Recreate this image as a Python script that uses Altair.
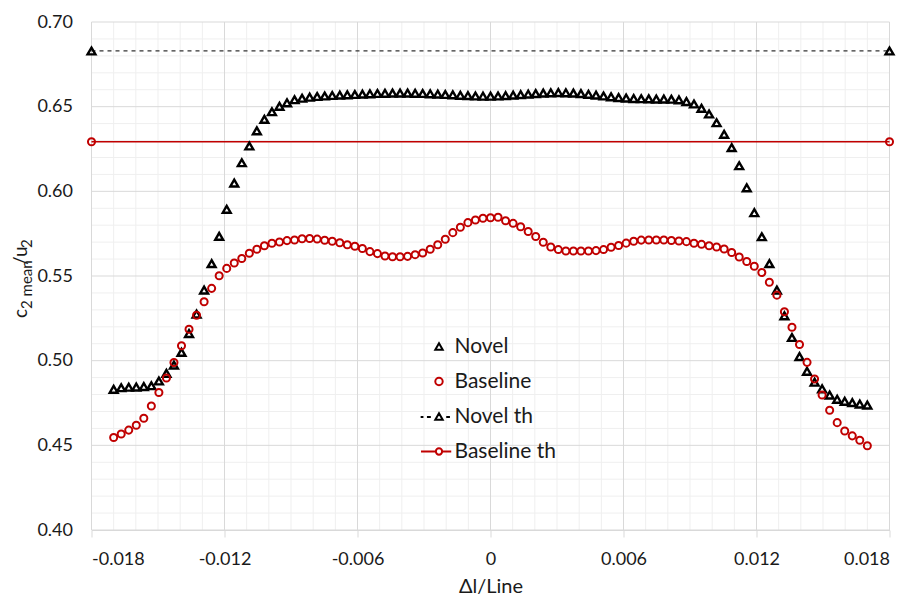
import altair as alt
import pandas as pd

# ---------------- data ----------------
x_pos = [round(-0.017 + 0.00034 * i, 5) for i in range(101)]

novel = [
    0.4831, 0.4840, 0.4843, 0.4844, 0.4847, 0.4852, 0.4880, 0.4925, 0.4974, 0.5049,
    0.5160, 0.5275, 0.5417, 0.5573, 0.5734, 0.5894, 0.6049, 0.6169, 0.6268, 0.6357,
    0.6425, 0.6470, 0.6502, 0.6523, 0.6541, 0.6550, 0.6556, 0.6560, 0.6563, 0.6566,
    0.6568, 0.6570, 0.6572, 0.6574, 0.6576, 0.6578, 0.6579, 0.6580, 0.6580, 0.6580,
    0.6579, 0.6578, 0.6576, 0.6574, 0.6572, 0.6570, 0.6567, 0.6565, 0.6563, 0.6562,
    0.6562, 0.6563, 0.6565, 0.6568, 0.6571, 0.6574, 0.6577, 0.6580, 0.6582, 0.6583,
    0.6582, 0.6580, 0.6577, 0.6573, 0.6568, 0.6563, 0.6558, 0.6554, 0.6551, 0.6548,
    0.6547, 0.6546, 0.6545, 0.6545, 0.6544, 0.6540, 0.6530, 0.6516, 0.6490, 0.6457,
    0.6405, 0.6337, 0.6258, 0.6151, 0.6021, 0.5874, 0.5732, 0.5573, 0.5417, 0.5265,
    0.5137, 0.5024, 0.4937, 0.4873, 0.4834, 0.4797, 0.4772, 0.4760, 0.4752, 0.4744,
    0.4738,
]

baseline = [
    0.4546, 0.4567, 0.4590, 0.4619, 0.4660, 0.4732, 0.4812, 0.4898, 0.4989, 0.5088,
    0.5186, 0.5268, 0.5348, 0.5427, 0.5501, 0.5545, 0.5577, 0.5603, 0.5634, 0.5658,
    0.5679, 0.5693, 0.5701, 0.5709, 0.5713, 0.5720, 0.5721, 0.5718, 0.5711, 0.5705,
    0.5696, 0.5685, 0.5676, 0.5662, 0.5644, 0.5632, 0.5618, 0.5614, 0.5614, 0.5616,
    0.5626, 0.5636, 0.5658, 0.5685, 0.5717, 0.5756, 0.5788, 0.5815, 0.5831, 0.5841,
    0.5844, 0.5847, 0.5826, 0.5811, 0.5791, 0.5763, 0.5733, 0.5699, 0.5671, 0.5656,
    0.5648, 0.5648, 0.5648, 0.5648, 0.5650, 0.5656, 0.5670, 0.5680, 0.5694, 0.5705,
    0.5712, 0.5713, 0.5713, 0.5713, 0.5710, 0.5707, 0.5703, 0.5693, 0.5687, 0.5679,
    0.5671, 0.5659, 0.5639, 0.5612, 0.5586, 0.5558, 0.5521, 0.5463, 0.5387, 0.5289,
    0.5197, 0.5095, 0.4990, 0.4892, 0.4797, 0.4707, 0.4634, 0.4585, 0.4556, 0.4530,
    0.4498,
]

novel_th = 0.6829
baseline_th = 0.6293
th_x = [-0.018, 0.018]

series_names = ["Novel", "Baseline", "Novel th", "Baseline th"]
x_ticks = [-0.018, -0.012, -0.006, 0.0, 0.006, 0.012, 0.018]
y_ticks = [0.40, 0.45, 0.50, 0.55, 0.60, 0.65, 0.70]
x_minor = [round(-0.018 + 0.001 * k, 3) for k in range(37) if k % 6 != 0]
y_minor = [round(0.40 + 0.01 * k, 2) for k in range(31) if k % 5 != 0]

# ---------------- styling ----------------
BLACK = "#000000"
RED = "#C00000"
TEXT = "#1a1a1a"
FONT = "Lato"
MAJOR = "#d9d9d9"
MINOR = "#efefef"

novel_th_shape = "M-4.95,0.15H-4.2M-3.25,0.15H-2.2M1.95,0.15H2.95M0,-0.866L-1,0.866L1,0.866Z"
baseline_th_shape = "M-4.85,0H-0.85M0.85,0H3.3M0.85,0A0.85,0.85,0,1,1,-0.85,0A0.85,0.85,0,1,1,0.85,0"

xscale = alt.Scale(domain=[-0.018, 0.018], nice=False, zero=False)
yscale = alt.Scale(domain=[0.40, 0.70], nice=False, zero=False)

xaxis = alt.Axis(
    values=x_ticks, grid=False, title="Δl/Line",
    labelExpr="datum.value == 0 ? '0' : (datum.value < 0 ? '-' + format(-datum.value, '.3f') : format(datum.value, '.3f'))",
    labelFont=FONT, labelFontSize=18, labelColor=TEXT, labelPadding=13,
    ticks=True, tickSize=7, tickColor=MAJOR, domain=True, domainColor=MAJOR,
    titleFont=FONT, titleFontSize=20, titleFontWeight="normal", titleColor=TEXT, titlePadding=8,
)
yaxis = alt.Axis(
    values=y_ticks, grid=False, title=None, format=".2f",
    labelFont=FONT, labelFontSize=18, labelColor=TEXT, labelPadding=19,
    ticks=False, domain=False,
)

shape_scale = alt.Scale(domain=series_names,
                        range=["triangle-up", "circle", novel_th_shape, baseline_th_shape])
color_scale = alt.Scale(domain=series_names, range=[BLACK, RED, BLACK, RED])

legend = alt.Legend(
    orient="none", legendX=337, legendY=314, title=None,
    labelFont=FONT, labelFontSize=21, labelColor=TEXT, labelOffset=5,
    symbolSize=55, symbolStrokeWidth=2.0, symbolOffset=0, rowPadding=13, padding=0,
)

# ---------------- tables ----------------
df_pts = pd.DataFrame({
    "x": x_pos * 2,
    "y": novel + baseline,
    "series": ["Novel"] * len(novel) + ["Baseline"] * len(baseline),
})
df_novel = df_pts[df_pts.series == "Novel"]
df_base = df_pts[df_pts.series == "Baseline"]
df_nth = pd.DataFrame({"x": th_x, "y": [novel_th] * 2})
df_bth = pd.DataFrame({"x": th_x, "y": [baseline_th] * 2})
df_xminor = pd.DataFrame({"x": x_minor})
df_yminor = pd.DataFrame({"y": y_minor})
df_xmajor = pd.DataFrame({"x": x_ticks})
df_ymajor = pd.DataFrame({"y": y_ticks})

X = lambda f: alt.X(f, scale=xscale, axis=xaxis)
Y = lambda f: alt.Y(f, scale=yscale, axis=yaxis)

grid_xminor = alt.Chart(df_xminor).mark_rule(color=MINOR, strokeWidth=1).encode(x=X("x:Q"))
grid_yminor = alt.Chart(df_yminor).mark_rule(color=MINOR, strokeWidth=1).encode(y=Y("y:Q"))
grid_xmajor = alt.Chart(df_xmajor).mark_rule(color=MAJOR, strokeWidth=1).encode(x=X("x:Q"))
grid_ymajor = alt.Chart(df_ymajor).mark_rule(color=MAJOR, strokeWidth=1).encode(y=Y("y:Q"))

nth_line = alt.Chart(df_nth).mark_line(color="#333333", strokeDash=[4, 4], strokeWidth=1.2).encode(
    x=X("x:Q"), y=Y("y:Q"))
bth_line = alt.Chart(df_bth).mark_line(color=RED, strokeWidth=1.5).encode(x=X("x:Q"), y=Y("y:Q"))
nth_pts = alt.Chart(df_nth).mark_point(shape="triangle-up", filled=False, color=BLACK, size=62,
                                       strokeWidth=2.4, opacity=1).encode(x=X("x:Q"), y=Y("y:Q"))
bth_pts = alt.Chart(df_bth).mark_point(shape="circle", filled=False, color=RED, size=50,
                                       strokeWidth=2.0, opacity=1).encode(x=X("x:Q"), y=Y("y:Q"))

enc_common = dict(
    shape=alt.Shape("series:N", scale=shape_scale, legend=legend),
    color=alt.Color("series:N", scale=color_scale, legend=legend),
)
novel_pts = alt.Chart(df_novel).mark_point(filled=False, size=62, strokeWidth=2.4, opacity=1).encode(
    x=X("x:Q"), y=Y("y:Q"), **enc_common)
base_pts = alt.Chart(df_base).mark_point(filled=False, size=50, strokeWidth=2.0, opacity=1).encode(
    x=X("x:Q"), y=Y("y:Q"), **enc_common)

# y-axis title with subscripts: c_{2 mean}/u_{2}
def title_piece(txt, px, py, size):
    return alt.Chart(pd.DataFrame({"t": [txt]})).mark_text(
        angle=270, align="left", baseline="alphabetic", font=FONT, fontSize=size, color=TEXT
    ).encode(text="t:N", x=alt.value(px), y=alt.value(py))

ytitle = (
    title_piece("c", -64.5, 296, 19)
    + title_piece("2 mean", -59.5, 287, 15)
    + title_piece("/u", -64.5, 243, 19)
    + title_piece("2", -59.5, 226, 15)
)

chart = alt.layer(
    grid_xminor, grid_yminor, grid_xmajor, grid_ymajor,
    nth_line, bth_line, nth_pts, bth_pts,
    novel_pts, base_pts, ytitle,
).properties(
    width=798, height=508,
    autosize=alt.AutoSizeParams(type="none"),
    padding={"left": 83.5, "top": 14, "right": 18, "bottom": 78},
    background="white",
).configure_view(stroke=None)

chart.save("out.html", embed_options={"renderer": "svg", "actions": False})
